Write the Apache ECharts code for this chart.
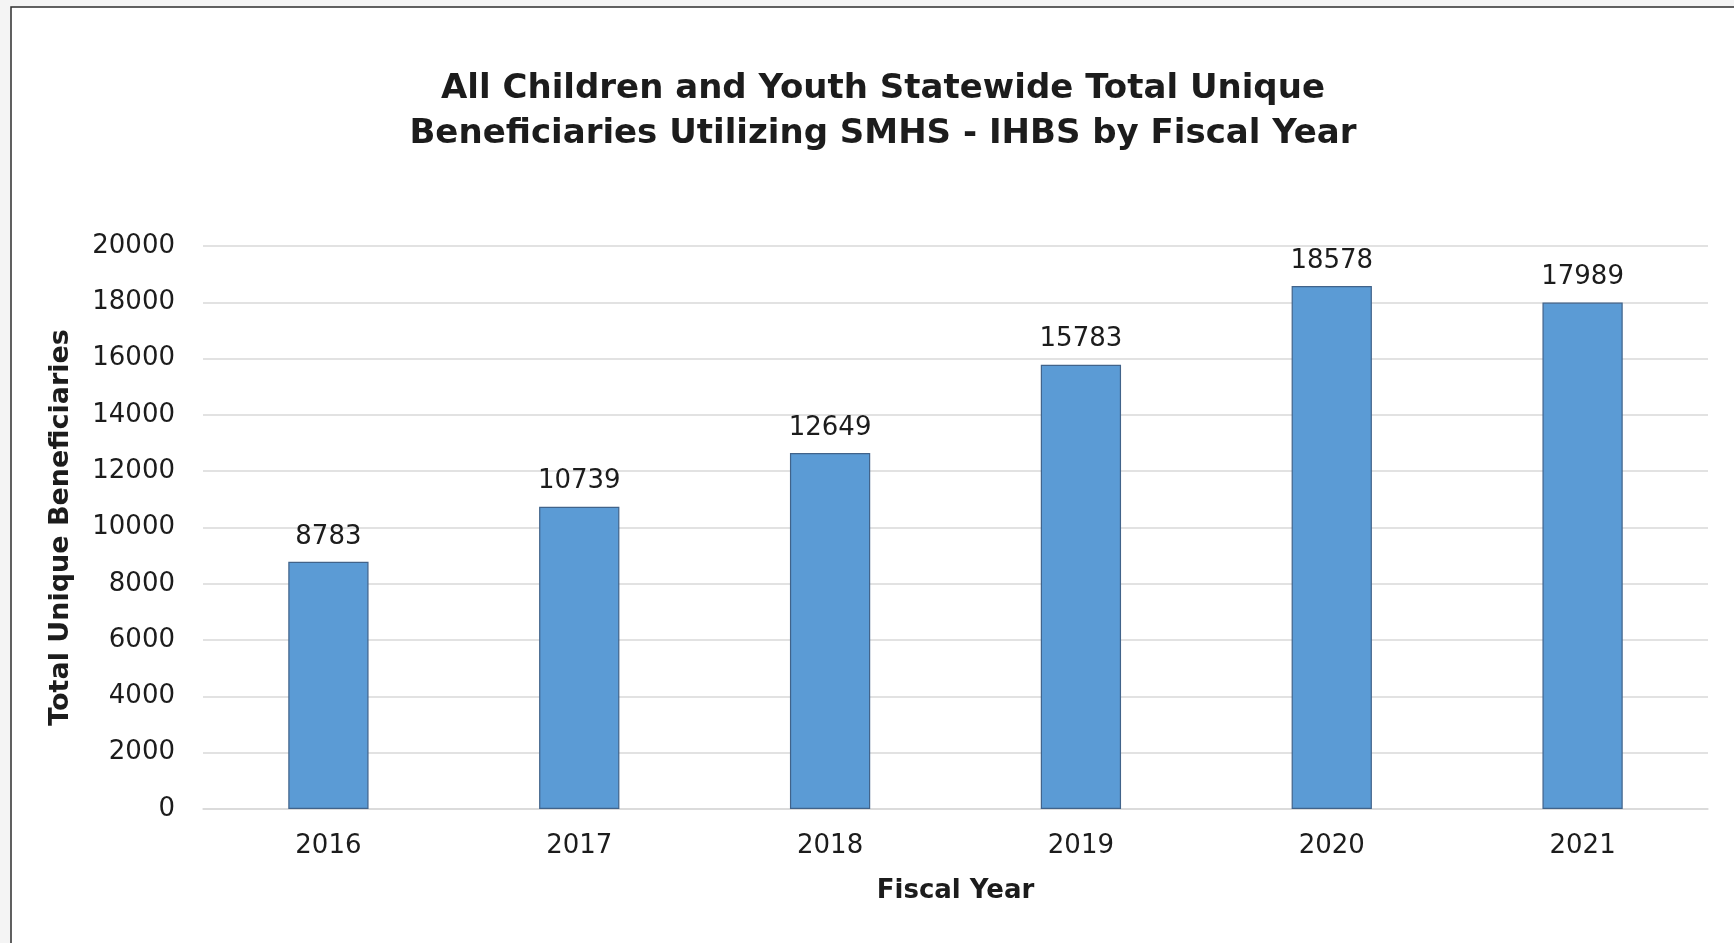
<!DOCTYPE html>
<html>
<head>
<meta charset="utf-8">
<title>SMHS - IHBS Beneficiaries by Fiscal Year</title>
<script src="https://cdn.jsdelivr.net/npm/echarts@6/dist/echarts.min.js"></script>
<style>
  html, body { margin: 0; padding: 0; background: #f4f4f4; }
  #chart { width: 1734px; height: 943px; }
</style>
</head>
<body>
<div id="chart"></div>
<script>
// Fiscal years on the category axis
const fiscalYears = ['2016', '2017', '2018', '2019', '2020', '2021'];
// Total unique beneficiaries per fiscal year
const beneficiaries = [8783, 10739, 12649, 15783, 18578, 17989];

const titleLines = [
  'All Children and Youth Statewide Total Unique',
  'Beneficiaries Utilizing SMHS - IHBS by Fiscal Year'
];
const yAxisTitle = 'Total Unique Beneficiaries';
const xAxisTitle = 'Fiscal Year';

const FONT = '"DejaVu Sans", sans-serif';
const INK = '#1c1c1c';

const chart = echarts.init(document.getElementById('chart'), null, { renderer: 'canvas' });

chart.setOption({
  backgroundColor: '#f4f4f4',
  animation: false,
  textStyle: { fontFamily: FONT, color: INK },
  graphic: [
    {
      // white chart area with a dark frame
      type: 'rect',
      z: -10,
      silent: true,
      shape: { x: 11, y: 7, width: 1800, height: 1000 },
      style: { fill: '#ffffff', stroke: '#2e2e2e', lineWidth: 1.5 }
    }
  ],
  title: {
    text: titleLines.join('\n'),
    left: 878,
    textAlign: 'center',
    top: 62,
    textStyle: {
      fontFamily: FONT,
      fontSize: 34,
      fontWeight: 'bold',
      lineHeight: 45,
      color: INK
    }
  },
  grid: {
    left: 203,
    right: 26,
    top: 246,
    bottom: 134,
    containLabel: false
  },
  xAxis: {
    type: 'category',
    data: fiscalYears,
    name: xAxisTitle,
    nameLocation: 'middle',
    nameGap: 69,
    nameTextStyle: { fontFamily: FONT, fontSize: 26, fontWeight: 'bold', color: INK },
    axisLine: { show: true, lineStyle: { color: '#d9d9d9', width: 1.5 } },
    axisTick: { show: false },
    axisLabel: { margin: 24, fontFamily: FONT, fontSize: 26, color: INK }
  },
  yAxis: {
    type: 'value',
    min: 0,
    max: 20000,
    interval: 2000,
    name: yAxisTitle,
    nameLocation: 'middle',
    nameRotate: 90,
    nameGap: 129,
    nameTextStyle: { fontFamily: FONT, fontSize: 27, fontWeight: 'bold', color: INK },
    axisLine: { show: false },
    axisTick: { show: false },
    axisLabel: {
      margin: 28,
      fontFamily: FONT,
      fontSize: 26,
      color: INK,
      formatter: (v) => String(v)
    },
    splitLine: { show: true, lineStyle: { color: '#d9d9d9', width: 1.5 } }
  },
  series: [
    {
      type: 'bar',
      data: beneficiaries,
      barWidth: '32%',
      itemStyle: { color: '#5b9bd5', borderColor: '#41638a', borderWidth: 1.2 },
      label: {
        show: true,
        position: 'top',
        distance: 12,
        fontFamily: FONT,
        fontSize: 26,
        color: INK
      }
    }
  ]
});
</script>
</body>
</html>
